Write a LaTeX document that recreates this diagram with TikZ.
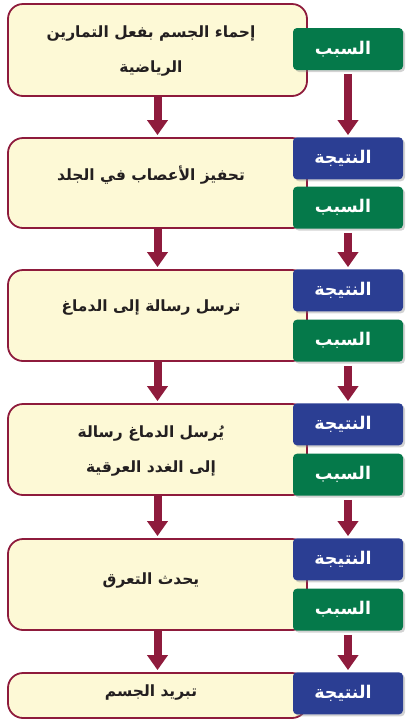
\documentclass[tikz,border=0pt]{standalone}
\usepackage{fontspec}
\newfontfamily\arabicfont[Script=Arabic]{DejaVu Sans}
\TeXXeTstate=1
\usetikzlibrary{arrows.meta,shadows}

\definecolor{boxfill}{HTML}{FDF9D6}
\definecolor{boxline}{HTML}{8E1B3C}
\definecolor{causegreen}{HTML}{05794A}
\definecolor{effectblue}{HTML}{2B3E93}
\definecolor{inktext}{HTML}{231F20}

\tikzset{
    stepbox/.style={draw=boxline, line width=1.8pt, fill=boxfill, rounded corners=15pt,
        minimum width=299pt},
    steptext/.style={align=center, inner sep=0pt, text=inktext,
        font=\arabicfont\bfseries\fontsize{15.5}{35}\selectfont},
    tagbox/.style={rounded corners=4pt, minimum width=110pt, minimum height=42pt,
        text=white, font=\arabicfont\bfseries\fontsize{17.5}{20}\selectfont,
        drop shadow={opacity=0.35, shadow xshift=2pt, shadow yshift=-2pt}},
    causebox/.style={tagbox, fill=causegreen},
    effectbox/.style={tagbox, fill=effectblue},
    flow/.style={boxline, line width=8pt, -{Triangle[width=20pt,length=15pt]}}
}
\newcommand{\cause}{\beginR السبب\endR\rule{10pt}{0pt}}
\newcommand{\effect}{\beginR النتيجة\endR\rule{10pt}{0pt}}

\begin{document}
\begin{tikzpicture}[x=1pt,y=-1pt]
    \useasboundingbox (0,0) rectangle (407,721);
    % the chain of steps
    \foreach \i/\ymid/\h in {1/50/92,2/183/90,3/315.5/91,4/449.5/91,5/584.5/91,6/695.5/45}{
        \node[stepbox, minimum height=\h pt] (b\i) at (157.5,\ymid) {};
    }
    \node[steptext] (t1) at (151,50.5)
        {\beginR إحماء الجسم بفعل التمارين\endR\\ \beginR الرياضية\endR};
    \node[steptext] (t2) at (151,175) {\beginR تحفيز الأعصاب في الجلد\endR};
    \node[steptext] (t3) at (151,307) {\beginR ترسل رسالة إلى الدماغ\endR};
    \node[steptext] (t4) at (151,451)
        {\beginR يُرسل الدماغ رسالة\endR\\ \beginR إلى الغدد العرقية\endR};
    \node[steptext] (t5) at (151,580) {\beginR يحدث التعرق\endR};
    \node[steptext] (t6) at (151,692) {\beginR تبريد الجسم\endR};
    % cause / effect tags
    \node[causebox] (c1) at (348,49) {\cause};
    \foreach \i in {2,...,5}{
        \node[effectbox, anchor=north] (e\i) at (348,0 |- b\i.north) {\effect};
        \node[causebox, anchor=south] (c\i) at (348,0 |- b\i.south) {\cause};
    }
    \node[effectbox, anchor=north] (e6) at (348,0 |- b6.north) {\effect};
    % arrows
    \foreach \i in {1,...,5}{
        \pgfmathtruncatemacro{\j}{\i+1}
        \draw[flow, shorten >=2pt] (b\i.south) -- (b\j.north);
        \draw[flow, shorten <=4pt, shorten >=2pt] (c\i.south) -- (e\j.north);
    }
\end{tikzpicture}
\end{document}
